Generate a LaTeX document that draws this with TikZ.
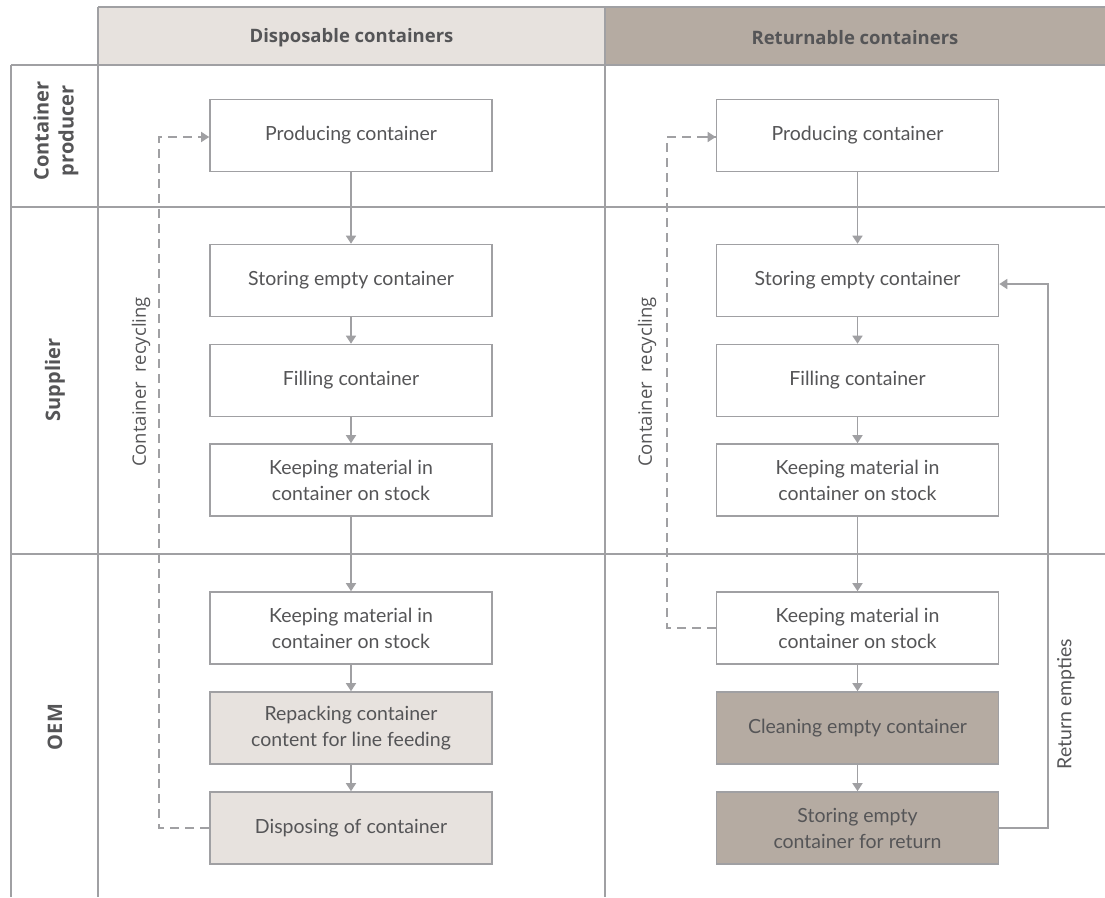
\documentclass[tikz,border=0pt]{standalone}
\usepackage{fontspec}
\setmainfont{Lato}
\newfontfamily\labfont{Open Sans}
\usetikzlibrary{arrows.meta}
\definecolor{lineg}{HTML}{A0A0A3}
\definecolor{txt}{HTML}{555557}
\definecolor{lightfill}{HTML}{E7E2DE}
\definecolor{darkfill}{HTML}{B5ABA2}
\tikzset{
  grid/.style={draw=lineg, line width=1.6pt},
  proc/.style={draw=lineg, line width=1.6pt, fill=white, minimum width=282pt, minimum height=72pt, align=center, text=txt, font=\fontsize{19.5}{26}\selectfont, inner sep=0pt},
  lightproc/.style={proc, fill=lightfill},
  darkproc/.style={proc, fill=darkfill},
  flow/.style={draw=lineg, line width=1.6pt, -{Triangle[width=10pt,length=8pt]}},
  dflow/.style={draw=lineg, line width=1.6pt, dash pattern=on 9pt off 6pt},
  rowlab/.style={rotate=90, text=txt, font=\labfont\bfseries\fontsize{20}{25}\selectfont, align=center},
  sidelab/.style={rotate=90, text=txt, font=\fontsize{19.5}{24}\selectfont},
  headlab/.style={text=txt, font=\labfont\bfseries\fontsize{18.5}{22}\selectfont}
}
\begin{document}
\begin{tikzpicture}[x=1pt,y=-1pt]
\useasboundingbox (0,0) rectangle (1105,897);
% header
\fill[lightfill] (98,7) rectangle (605,65);
\fill[darkfill] (605,7) rectangle (1105,65);
\node[headlab] (hd) at (351.5,37.5) {Disposable containers};
\node[headlab] (hr) at (855,37.5) {Returnable containers};
% grid
\draw[grid] (98,7) -- (1105,7);
\draw[grid] (11,65) -- (1105,65);
\draw[grid] (11,207) -- (1105,207);
\draw[grid] (11,554) -- (1105,554);
\draw[grid] (11,65) -- (11,897);
\draw[grid] (98,7) -- (98,897);
\draw[grid] (605,7) -- (605,897);
% row labels
\node[rowlab] (rp) at (56,131) {Container\\producer};
\node[rowlab] (rs) at (55,380) {Supplier};
\node[rowlab] (ro) at (55,727) {OEM};
% left column
\node[proc] (a1) at (351,135.5) {Producing container};
\node[proc] (a2) at (351,280.5) {Storing empty container};
\node[proc] (a3) at (351,380.5) {Filling container};
\node[proc] (a4) at (351,480) {Keeping material in\\container on stock};
\node[proc] (a5) at (351,628) {Keeping material in\\container on stock};
\node[lightproc] (a6) at (351,728) {Repacking container\\content for line feeding};
\node[lightproc] (a7) at (351,828) {Disposing of container};
% right column
\node[proc] (b1) at (857.5,135.5) {Producing container};
\node[proc] (b2) at (857.5,280.5) {Storing empty container};
\node[proc] (b3) at (857.5,380.5) {Filling container};
\node[proc] (b4) at (857.5,480) {Keeping material in\\container on stock};
\node[proc] (b5) at (857.5,628) {Keeping material in\\container on stock};
\node[darkproc] (b6) at (857.5,728) {Cleaning empty container};
\node[darkproc] (b7) at (857.5,828) {Storing empty\\container for return};
% flows
\foreach \u/\v in {a1/a2,a2/a3,a3/a4,a4/a5,a5/a6,a6/a7,b1/b2,b2/b3,b3/b4,b4/b5,b5/b6,b6/b7}
  \draw[flow] (\u.south) -- (\v.north);
% recycling
\coordinate (lc1) at (159,828);
\coordinate (lc2) at (159,137);
\draw[dflow] (a7.west) -- (lc1) -- (lc2) -- (a1.west |- lc2);
\draw[draw=lineg, line width=1.6pt, -{Triangle[width=10pt,length=8pt]}] ([xshift=-10pt]a1.west |- lc2) -- (a1.west |- lc2);
\coordinate (rc1) at (667,628);
\coordinate (rc2) at (667,137);
\draw[dflow] (b5.west) -- (rc1) -- (rc2) -- (b1.west |- rc2);
\draw[draw=lineg, line width=1.6pt, -{Triangle[width=10pt,length=8pt]}] ([xshift=-10pt]b1.west |- rc2) -- (b1.west |- rc2);
\node[sidelab, font=\labfont\fontsize{18.5}{22}\selectfont] (lr) at (141,382) {Container\ \ recycling};
\node[sidelab, font=\labfont\fontsize{18.5}{22}\selectfont] (rr) at (647,382) {Container\ \ recycling};
% return empties
\coordinate (re1) at (1048,828);
\coordinate (re2) at (1048,284);
\draw[flow] (b7.east) -- (re1) -- (re2) -- (b2.east |- re2);
\node[sidelab] (rel) at (1066,704) {Return empties};
\end{tikzpicture}
\end{document}
